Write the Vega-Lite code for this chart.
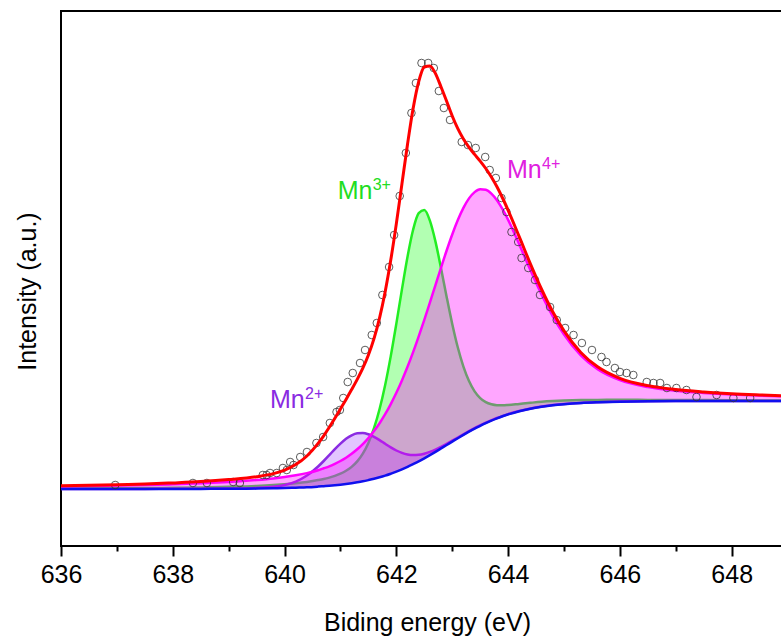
{
  "$schema": "https://vega.github.io/schema/vega-lite/v6.json",
  "width": 721,
  "height": 535,
  "autosize": {"type": "none"},
  "padding": {"left": 61, "top": 11, "right": 0, "bottom": 93},
  "background": "white",
  "config": {
    "font": "Liberation Sans",
    "view": {"stroke": "black", "strokeWidth": 2}
  },
  "datasets": {
    "model": [
      {"E": 636.0, "bg": 57.0, "mn2": 57.1, "mn3": 57.6, "mn4": 59.5, "fit": 60.2},
      {"E": 636.5, "bg": 57.0, "mn2": 57.1, "mn3": 57.7, "mn4": 59.9, "fit": 60.7},
      {"E": 637.0, "bg": 57.0, "mn2": 57.1, "mn3": 57.8, "mn4": 60.4, "fit": 61.3},
      {"E": 637.5, "bg": 57.0, "mn2": 57.1, "mn3": 58.0, "mn4": 60.9, "fit": 62.0},
      {"E": 638.0, "bg": 57.0, "mn2": 57.2, "mn3": 58.2, "mn4": 61.7, "fit": 63.1},
      {"E": 638.5, "bg": 57.1, "mn2": 57.3, "mn3": 58.6, "mn4": 62.7, "fit": 64.4},
      {"E": 639.0, "bg": 57.2, "mn2": 57.5, "mn3": 59.2, "mn4": 64.0, "fit": 66.4},
      {"E": 639.5, "bg": 57.4, "mn2": 58.1, "mn3": 60.1, "mn4": 66.0, "fit": 69.3},
      {"E": 639.8, "bg": 57.7, "mn2": 59.2, "mn3": 61.0, "mn4": 67.6, "fit": 72.4},
      {"E": 640.0, "bg": 57.9, "mn2": 61.0, "mn3": 61.8, "mn4": 69.0, "fit": 75.9},
      {"E": 640.2, "bg": 58.3, "mn2": 64.4, "mn3": 62.8, "mn4": 70.7, "fit": 81.4},
      {"E": 640.4, "bg": 58.7, "mn2": 70.5, "mn3": 64.1, "mn4": 72.9, "fit": 90.0},
      {"E": 640.6, "bg": 59.4, "mn2": 79.5, "mn3": 65.9, "mn4": 75.8, "fit": 102.6},
      {"E": 640.7, "bg": 59.8, "mn2": 85.0, "mn3": 67.0, "mn4": 77.7, "fit": 110.2},
      {"E": 640.8, "bg": 60.2, "mn2": 90.9, "mn3": 68.4, "mn4": 79.7, "fit": 118.7},
      {"E": 640.9, "bg": 60.7, "mn2": 96.9, "mn3": 70.1, "mn4": 82.2, "fit": 127.7},
      {"E": 641.0, "bg": 61.3, "mn2": 102.4, "mn3": 72.3, "mn4": 85.0, "fit": 137.1},
      {"E": 641.1, "bg": 62.0, "mn2": 107.2, "mn3": 75.2, "mn4": 88.3, "fit": 146.6},
      {"E": 641.2, "bg": 62.8, "mn2": 110.7, "mn3": 79.1, "mn4": 92.2, "fit": 156.4},
      {"E": 641.3, "bg": 63.7, "mn2": 112.7, "mn3": 84.6, "mn4": 96.7, "fit": 166.6},
      {"E": 641.4, "bg": 64.7, "mn2": 113.0, "mn3": 92.4, "mn4": 101.9, "fit": 177.8},
      {"E": 641.5, "bg": 65.9, "mn2": 111.7, "mn3": 103.1, "mn4": 107.9, "fit": 191.0},
      {"E": 641.6, "bg": 67.2, "mn2": 109.2, "mn3": 117.8, "mn4": 114.9, "fit": 207.4},
      {"E": 641.7, "bg": 68.7, "mn2": 105.9, "mn3": 137.0, "mn4": 122.8, "fit": 228.2},
      {"E": 641.8, "bg": 70.4, "mn2": 102.2, "mn3": 161.1, "mn4": 131.8, "fit": 254.3},
      {"E": 641.9, "bg": 72.3, "mn2": 98.6, "mn3": 189.9, "mn4": 141.9, "fit": 285.9},
      {"E": 642.0, "bg": 74.3, "mn2": 95.5, "mn3": 222.4, "mn4": 153.2, "fit": 322.4},
      {"E": 642.1, "bg": 76.6, "mn2": 93.1, "mn3": 256.6, "mn4": 165.6, "fit": 362.1},
      {"E": 642.2, "bg": 79.1, "mn2": 91.5, "mn3": 289.3, "mn4": 179.2, "fit": 401.8},
      {"E": 642.3, "bg": 81.8, "mn2": 90.9, "mn3": 316.2, "mn4": 193.9, "fit": 437.5},
      {"E": 642.4, "bg": 84.6, "mn2": 91.2, "mn3": 332.8, "mn4": 209.7, "fit": 464.4},
      {"E": 642.5, "bg": 87.7, "mn2": 92.3, "mn3": 335.9, "mn4": 226.2, "fit": 479.0},
      {"E": 642.6, "bg": 90.9, "mn2": 94.1, "mn3": 325.3, "mn4": 243.4, "fit": 480.1},
      {"E": 642.7, "bg": 94.2, "mn2": 96.4, "mn3": 304.4, "mn4": 260.9, "fit": 472.4},
      {"E": 642.8, "bg": 97.6, "mn2": 99.2, "mn3": 277.6, "mn4": 278.4, "fit": 459.0},
      {"E": 642.9, "bg": 101.0, "mn2": 102.2, "mn3": 249.1, "mn4": 295.5, "fit": 444.7},
      {"E": 643.0, "bg": 104.4, "mn2": 105.3, "mn3": 222.1, "mn4": 311.5, "fit": 430.0},
      {"E": 643.1, "bg": 107.8, "mn2": 108.5, "mn3": 198.5, "mn4": 325.9, "fit": 417.3},
      {"E": 643.2, "bg": 111.1, "mn2": 111.7, "mn3": 179.4, "mn4": 338.1, "fit": 407.0},
      {"E": 643.3, "bg": 114.3, "mn2": 114.8, "mn3": 164.9, "mn4": 347.6, "fit": 398.7},
      {"E": 643.4, "bg": 117.4, "mn2": 117.8, "mn3": 154.6, "mn4": 353.9, "fit": 391.6},
      {"E": 643.5, "bg": 120.2, "mn2": 120.6, "mn3": 147.9, "mn4": 356.8, "fit": 384.9},
      {"E": 643.6, "bg": 122.9, "mn2": 123.3, "mn3": 143.8, "mn4": 356.2, "fit": 377.5},
      {"E": 643.7, "bg": 125.4, "mn2": 125.7, "mn3": 141.7, "mn4": 352.4, "fit": 369.0},
      {"E": 643.8, "bg": 127.7, "mn2": 128.0, "mn3": 140.8, "mn4": 345.8, "fit": 359.2},
      {"E": 643.9, "bg": 129.8, "mn2": 130.0, "mn3": 140.7, "mn4": 336.8, "fit": 348.0},
      {"E": 644.0, "bg": 131.6, "mn2": 131.9, "mn3": 141.0, "mn4": 326.1, "fit": 335.7},
      {"E": 644.2, "bg": 134.8, "mn2": 135.0, "mn3": 142.1, "mn4": 301.6, "fit": 309.1},
      {"E": 644.4, "bg": 137.3, "mn2": 137.5, "mn3": 143.2, "mn4": 275.8, "fit": 281.9},
      {"E": 644.6, "bg": 139.2, "mn2": 139.4, "mn3": 144.2, "mn4": 251.4, "fit": 256.5},
      {"E": 644.8, "bg": 140.7, "mn2": 140.9, "mn3": 144.9, "mn4": 229.7, "fit": 234.0},
      {"E": 645.0, "bg": 141.8, "mn2": 142.0, "mn3": 145.4, "mn4": 211.4, "fit": 215.1},
      {"E": 645.3, "bg": 143.0, "mn2": 143.1, "mn3": 145.9, "mn4": 190.6, "fit": 193.6},
      {"E": 645.6, "bg": 143.7, "mn2": 143.8, "mn3": 146.1, "mn4": 176.7, "fit": 179.2},
      {"E": 646.0, "bg": 144.3, "mn2": 144.4, "mn3": 146.2, "mn4": 165.8, "fit": 167.7},
      {"E": 646.5, "bg": 144.7, "mn2": 144.8, "mn3": 146.1, "mn4": 158.9, "fit": 160.4},
      {"E": 647.0, "bg": 144.9, "mn2": 144.9, "mn3": 146.0, "mn4": 155.3, "fit": 156.5},
      {"E": 647.5, "bg": 144.9, "mn2": 145.0, "mn3": 145.9, "mn4": 153.1, "fit": 154.1},
      {"E": 648.0, "bg": 145.0, "mn2": 145.0, "mn3": 145.8, "mn4": 151.5, "fit": 152.3},
      {"E": 648.5, "bg": 145.0, "mn2": 145.0, "mn3": 145.6, "mn4": 150.4, "fit": 151.1},
      {"E": 648.9, "bg": 145.0, "mn2": 145.0, "mn3": 145.6, "mn4": 149.7, "fit": 150.3}
    ],
    "exp": [
      {"E": 636.97, "I": 61}, {"E": 638.36, "I": 63}, {"E": 638.61, "I": 63}, {"E": 639.08, "I": 64},
      {"E": 639.2, "I": 63}, {"E": 639.61, "I": 71}, {"E": 639.68, "I": 71}, {"E": 639.74, "I": 73},
      {"E": 639.86, "I": 73}, {"E": 639.97, "I": 78}, {"E": 640.04, "I": 76}, {"E": 640.1, "I": 84},
      {"E": 640.16, "I": 81}, {"E": 640.28, "I": 89}, {"E": 640.4, "I": 94}, {"E": 640.57, "I": 103},
      {"E": 640.69, "I": 109}, {"E": 640.81, "I": 123}, {"E": 640.93, "I": 134}, {"E": 640.99, "I": 136},
      {"E": 641.05, "I": 148}, {"E": 641.13, "I": 164}, {"E": 641.22, "I": 173}, {"E": 641.35, "I": 183},
      {"E": 641.44, "I": 196}, {"E": 641.56, "I": 211}, {"E": 641.65, "I": 223}, {"E": 641.75, "I": 251},
      {"E": 641.87, "I": 279}, {"E": 641.96, "I": 311}, {"E": 642.06, "I": 350}, {"E": 642.17, "I": 393},
      {"E": 642.27, "I": 433}, {"E": 642.35, "I": 463}, {"E": 642.45, "I": 483}, {"E": 642.57, "I": 483},
      {"E": 642.67, "I": 478}, {"E": 642.76, "I": 455}, {"E": 642.85, "I": 438}, {"E": 642.96, "I": 426},
      {"E": 643.17, "I": 404}, {"E": 643.28, "I": 401}, {"E": 643.42, "I": 398}, {"E": 643.59, "I": 389},
      {"E": 643.67, "I": 376}, {"E": 643.78, "I": 368}, {"E": 643.88, "I": 348}, {"E": 643.97, "I": 334},
      {"E": 644.06, "I": 314}, {"E": 644.18, "I": 304}, {"E": 644.24, "I": 288}, {"E": 644.36, "I": 278},
      {"E": 644.48, "I": 266}, {"E": 644.57, "I": 251}, {"E": 644.75, "I": 239}, {"E": 644.87, "I": 226},
      {"E": 645.02, "I": 218}, {"E": 645.17, "I": 211}, {"E": 645.32, "I": 203}, {"E": 645.5, "I": 196},
      {"E": 645.67, "I": 189}, {"E": 645.76, "I": 184}, {"E": 645.91, "I": 178}, {"E": 646.0, "I": 174},
      {"E": 646.12, "I": 173}, {"E": 646.24, "I": 171}, {"E": 646.48, "I": 164}, {"E": 646.6, "I": 163},
      {"E": 646.72, "I": 163}, {"E": 646.84, "I": 158}, {"E": 647.01, "I": 158}, {"E": 647.19, "I": 156},
      {"E": 647.37, "I": 149}, {"E": 647.73, "I": 151}, {"E": 648.03, "I": 148}, {"E": 648.33, "I": 148}
    ],
    "labels": [
      {"E": 640.95, "I": 347, "ion": "Mn", "charge": "3+", "sp": "Mn3"},
      {"E": 643.98, "I": 368, "ion": "Mn", "charge": "4+", "sp": "Mn4"},
      {"E": 639.74, "I": 138, "ion": "Mn", "charge": "2+", "sp": "Mn2"}
    ]
  },
  "data": {"name": "model"},
  "encoding": {
    "x": {
      "field": "E",
      "type": "quantitative",
      "scale": {"domain": [636, 648.9], "nice": false, "zero": false},
      "axis": {
        "title": "Biding energy (eV)",
        "values": [636, 637, 638, 639, 640, 641, 642, 643, 644, 645, 646, 647, 648],
        "labelExpr": "datum.value % 2 === 0 ? datum.label : ''",
        "tickSize": {"condition": {"test": "datum.value % 2 === 0", "value": 10}, "value": 5},
        "tickWidth": 2,
        "tickColor": "black",
        "domain": false,
        "grid": false,
        "labelFontSize": 25,
        "labelColor": "black",
        "labelPadding": 6,
        "labelFlush": false,
        "labelOverlap": false,
        "titleFontSize": 25,
        "titleFontWeight": "normal",
        "titleColor": "black",
        "titleBaseline": "alphabetic",
        "titleX": 366,
        "titleY": 84
      }
    }
  },
  "layer": [
    {
      "mark": {"type": "area", "interpolate": "monotone", "color": "#00ff00", "opacity": 0.3},
      "encoding": {
        "y": {
          "field": "mn3",
          "type": "quantitative",
          "scale": {"domain": [0, 535], "nice": false, "zero": false},
          "axis": {
            "title": "Intensity (a.u.)",
            "ticks": false,
            "labels": false,
            "domain": false,
            "grid": false,
            "titleFontSize": 25,
            "titleFontWeight": "normal",
            "titleColor": "black",
            "titleAngle": 270,
            "titleAlign": "center",
            "titleBaseline": "alphabetic",
            "titleX": -26,
            "titleY": 280
          }
        },
        "y2": {"field": "bg"}
      }
    },
    {
      "mark": {"type": "line", "interpolate": "monotone", "color": "#22ee22", "strokeWidth": 2.5},
      "encoding": {"y": {"field": "mn3", "type": "quantitative"}}
    },
    {
      "mark": {"type": "area", "interpolate": "monotone", "color": "#a040ff", "opacity": 0.3},
      "encoding": {"y": {"field": "mn2", "type": "quantitative"}, "y2": {"field": "bg"}}
    },
    {
      "mark": {"type": "line", "interpolate": "monotone", "color": "#8a2be2", "strokeWidth": 2.5},
      "encoding": {"y": {"field": "mn2", "type": "quantitative"}}
    },
    {
      "mark": {"type": "area", "interpolate": "monotone", "color": "#ff00ff", "opacity": 0.35},
      "encoding": {"y": {"field": "mn4", "type": "quantitative"}, "y2": {"field": "bg"}}
    },
    {
      "mark": {"type": "line", "interpolate": "monotone", "color": "#ff00ff", "strokeWidth": 2.5},
      "encoding": {"y": {"field": "mn4", "type": "quantitative"}}
    },
    {
      "mark": {"type": "line", "interpolate": "monotone", "color": "#1010ee", "strokeWidth": 2.5},
      "encoding": {"y": {"field": "bg", "type": "quantitative"}}
    },
    {
      "data": {"name": "exp"},
      "mark": {"type": "point", "shape": "circle", "filled": false, "size": 58, "color": "#333333", "strokeWidth": 0.8, "opacity": 1},
      "encoding": {"y": {"field": "I", "type": "quantitative"}}
    },
    {
      "mark": {"type": "line", "interpolate": "monotone", "color": "#ff0000", "strokeWidth": 3},
      "encoding": {"y": {"field": "fit", "type": "quantitative"}}
    },
    {
      "data": {"name": "labels"},
      "mark": {"type": "text", "align": "left", "baseline": "alphabetic", "fontSize": 25},
      "encoding": {
        "y": {"field": "I", "type": "quantitative"},
        "text": {"field": "ion"},
        "color": {"field": "sp", "type": "nominal", "scale": {"domain": ["Mn2", "Mn3", "Mn4"], "range": ["#8a2be2", "#22dd22", "#e020e0"]}, "legend": null}
      }
    },
    {
      "data": {"name": "labels"},
      "mark": {"type": "text", "align": "left", "baseline": "alphabetic", "fontSize": 16, "dx": 35, "dy": -9},
      "encoding": {
        "y": {"field": "I", "type": "quantitative"},
        "text": {"field": "charge"},
        "color": {"field": "sp", "type": "nominal", "legend": null}
      }
    }
  ]
}
